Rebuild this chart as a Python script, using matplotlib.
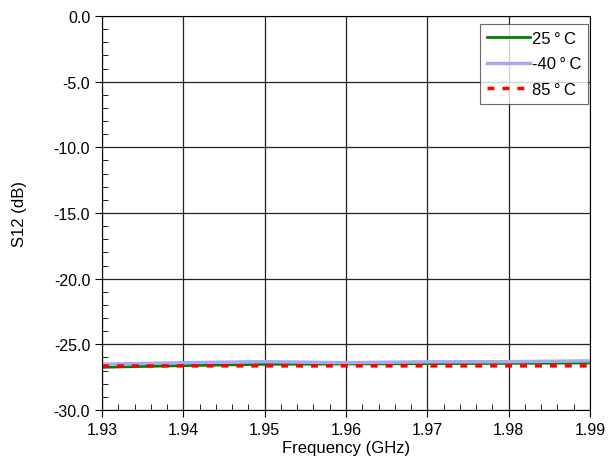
import numpy as np
import matplotlib.pyplot as plt
from matplotlib.ticker import MultipleLocator

plt.rcParams['font.family'] = ['Liberation Sans', 'DejaVu Sans']
plt.rcParams['axes.unicode_minus'] = False

freq = [1.93, 1.94, 1.95, 1.96, 1.97, 1.98, 1.99]
s12_25 = [-26.75, -26.62, -26.52, -26.50, -26.47, -26.45, -26.42]
s12_m40 = [-26.52, -26.40, -26.32, -26.40, -26.33, -26.32, -26.26]
s12_85 = [-26.65, -26.64, -26.64, -26.64, -26.64, -26.64, -26.64]
labels = ['25\u2009°\u2009C', '-40\u2009°\u2009C', '85\u2009°\u2009C']

fig = plt.figure(figsize=(6.08, 4.77), dpi=100)
ax = fig.add_axes([102/608, 66/477, 488/608, 394/477])

ax.plot(freq, s12_25, color='#008000', lw=2, label=labels[0])
ax.plot(freq, s12_m40, color='#a8a8f0', lw=2.5, label=labels[1])
ax.plot(freq, s12_85, color='#ff0000', lw=2.5, ls=(0, (2, 2.3)), label=labels[2])

ax.set_xlim(1.93, 1.99)
ax.set_ylim(-30, 0)
ax.xaxis.set_major_locator(MultipleLocator(0.01))
ax.xaxis.set_minor_locator(MultipleLocator(0.002))
ax.yaxis.set_major_locator(MultipleLocator(5))
ax.yaxis.set_minor_locator(MultipleLocator(1))
ax.yaxis.set_major_formatter('{x:.1f}')
ax.xaxis.set_major_formatter('{x:.2f}')
ax.tick_params(which='major', direction='out', length=5, labelsize=11.5, color='black')
ax.tick_params(which='minor', direction='in', length=4, color='black')
ax.grid(which='major', color='#222222', lw=0.9)
for s in ax.spines.values():
    s.set_color('black')

ax.set_xlabel('Frequency (GHz)', fontsize=12, labelpad=2)
ax.set_ylabel('S12 (dB)', fontsize=12, labelpad=19)

leg = ax.legend(loc='upper right', bbox_to_anchor=(0.996, 0.98), fontsize=12,
                frameon=True, fancybox=False, edgecolor='#444444',
                handlelength=2.6, handletextpad=0.1, borderaxespad=0,
                labelspacing=0.65, borderpad=0.4)
leg.get_frame().set_linewidth(0.8)

fig.savefig('out.png', dpi=100)
